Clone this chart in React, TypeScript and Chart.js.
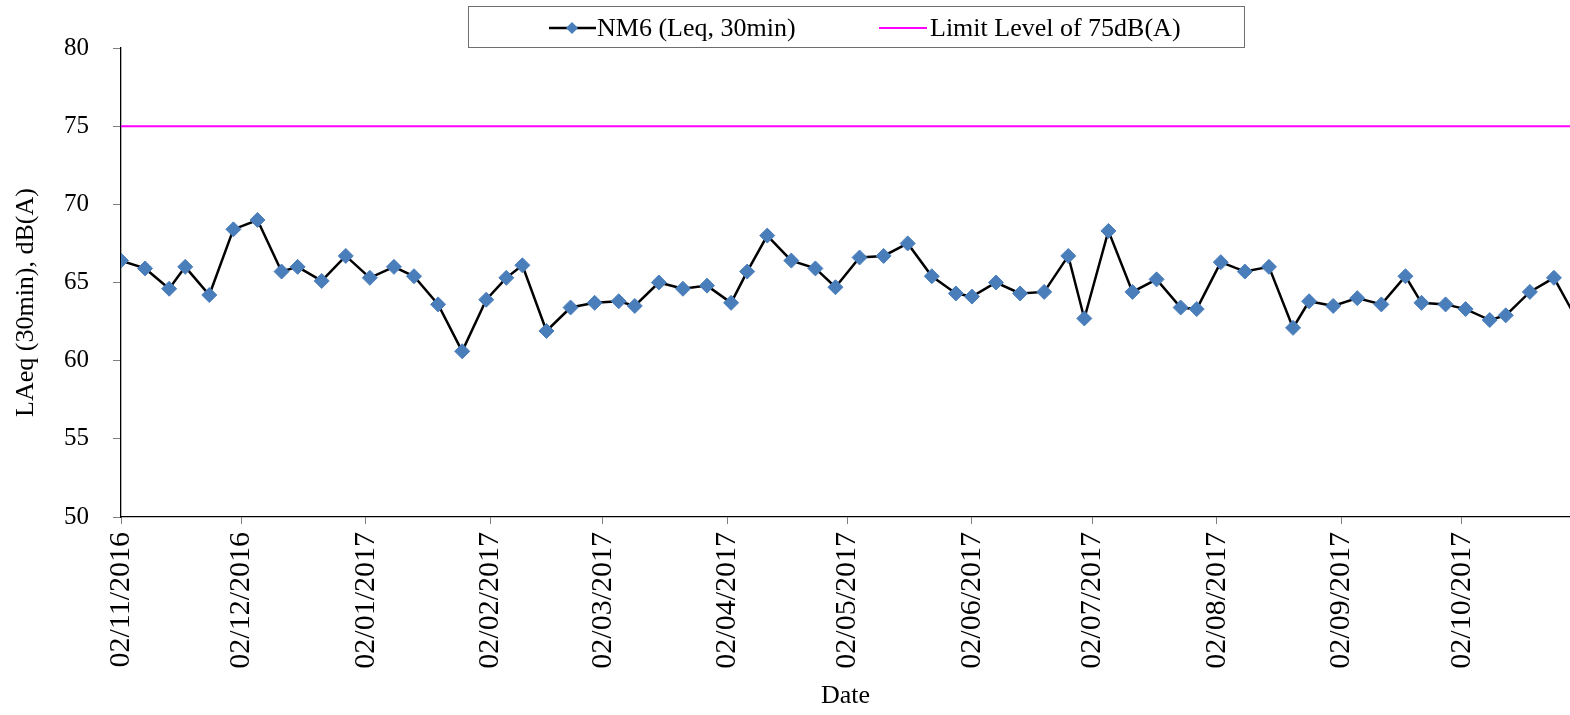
import React, { useEffect, useRef } from "react";
import { Chart, registerables } from "chart.js";

Chart.register(...registerables);

// ---- Data ----
const sampleDates = [
  "02/11/2016", "08/11/2016", "14/11/2016", "18/11/2016", "24/11/2016", "30/11/2016",
  "06/12/2016", "12/12/2016", "16/12/2016", "22/12/2016", "28/12/2016",
  "03/01/2017", "09/01/2017", "14/01/2017", "20/01/2017", "26/01/2017",
  "01/02/2017", "06/02/2017", "10/02/2017", "16/02/2017", "22/02/2017", "28/02/2017",
  "06/03/2017", "10/03/2017", "16/03/2017", "22/03/2017", "28/03/2017",
  "03/04/2017", "07/04/2017", "12/04/2017", "18/04/2017", "24/04/2017", "29/04/2017",
  "05/05/2017", "11/05/2017", "17/05/2017", "23/05/2017", "29/05/2017",
  "02/06/2017", "08/06/2017", "14/06/2017", "20/06/2017", "26/06/2017", "30/06/2017",
  "06/07/2017", "12/07/2017", "18/07/2017", "24/07/2017", "28/07/2017",
  "03/08/2017", "09/08/2017", "15/08/2017", "21/08/2017", "25/08/2017", "31/08/2017",
  "06/09/2017", "12/09/2017", "18/09/2017", "22/09/2017", "28/09/2017",
  "03/10/2017", "09/10/2017", "13/10/2017", "19/10/2017", "25/10/2017", "31/10/2017",
];

const nm6Levels = [
  66.4, 65.9, 64.6, 66.0, 64.2, 68.4, 69.0, 65.7, 66.0, 65.1,
  66.7, 65.3, 66.0, 65.4, 63.6, 60.6, 63.9, 65.3, 66.1, 61.9,
  63.4, 63.7, 63.8, 63.5, 65.0, 64.6, 64.8, 63.7, 65.7, 68.0,
  66.4, 65.9, 64.7, 66.6, 66.7, 67.5, 65.4, 64.3, 64.1, 65.0,
  64.3, 64.4, 66.7, 62.7, 68.3, 64.4, 65.2, 63.4, 63.3, 66.3,
  65.7, 66.0, 62.1, 63.8, 63.5, 64.0, 63.6, 65.4, 63.7, 63.6,
  63.3, 62.6, 62.9, 64.4, 65.3, 62.5,
];

const limitLevel = 75;

const monthTickLabels = [
  "02/11/2016", "02/12/2016", "02/01/2017", "02/02/2017", "02/03/2017", "02/04/2017",
  "02/05/2017", "02/06/2017", "02/07/2017", "02/08/2017", "02/09/2017", "02/10/2017",
];

const axisStartDate = "02/11/2016";
const axisEndDate = "29/10/2017";

const yMin = 50;
const yMax = 80;
const yStep = 5;

const seriesLabel = "NM6 (Leq, 30min)";
const limitLabel = "Limit Level of 75dB(A)";
const xTitle = "Date";
const yTitle = "LAeq (30min), dB(A)";

// ---- Helpers ----
function dayOf(s: string): number {
  const [d, m, y] = s.split("/").map(Number);
  const [d0, m0, y0] = axisStartDate.split("/").map(Number);
  return Math.round((Date.UTC(y, m - 1, d) - Date.UTC(y0, m0 - 1, d0)) / 86400000);
}

const FONT = '"Liberation Serif", "Times New Roman", serif';
const SERIES_COLOR = "#000000";
const MARKER_COLOR = "#4a7ebb";
const LIMIT_COLOR = "#ff00ff";

const zeroPadding = () => ({ left: 0, top: 0, right: 0, bottom: 0 });

const boxLegend = {
  id: "boxLegend",
  afterDraw(chart: any) {
    const ctx = chart.ctx;
    const ds = chart.data.datasets;
    ctx.save();
    ctx.strokeStyle = "#6e6e6e";
    ctx.lineWidth = 1;
    ctx.strokeRect(468.5, 6.5, 776, 41);
    const cy = 28;
    // series 1 sample
    ctx.strokeStyle = SERIES_COLOR;
    ctx.lineWidth = 2.5;
    ctx.beginPath();
    ctx.moveTo(549, cy);
    ctx.lineTo(596, cy);
    ctx.stroke();
    ctx.fillStyle = MARKER_COLOR;
    ctx.beginPath();
    const r = 6;
    ctx.moveTo(572 - r, cy);
    ctx.lineTo(572, cy - r);
    ctx.lineTo(572 + r, cy);
    ctx.lineTo(572, cy + r);
    ctx.closePath();
    ctx.fill();
    ctx.font = `26px ${FONT}`;
    ctx.fillStyle = "#000";
    ctx.textBaseline = "middle";
    ctx.textAlign = "left";
    ctx.fillText(ds[0].label, 597, cy + 1);
    // series 2 sample
    ctx.strokeStyle = LIMIT_COLOR;
    ctx.lineWidth = 2;
    ctx.beginPath();
    ctx.moveTo(879, cy);
    ctx.lineTo(927, cy);
    ctx.stroke();
    ctx.fillText(ds[1].label, 930, cy + 1);

    // y axis title
    const area = chart.chartArea;
    ctx.translate(26, (area.top + area.bottom) / 2 + 20);
    ctx.rotate(-Math.PI / 2);
    ctx.textAlign = "center";
    ctx.textBaseline = "middle";
    ctx.fillText(yTitle, 0, 0);
    ctx.restore();
  },
};

export default function App() {
  const canvasRef = useRef<HTMLCanvasElement | null>(null);

  useEffect(() => {
    document.body.style.margin = "0";
    const canvas = canvasRef.current;
    if (!canvas) return;

    const tickDays = monthTickLabels.map(dayOf);
    const labelByDay = new Map<number, string>();
    monthTickLabels.forEach((l, i) => labelByDay.set(tickDays[i], l));

    const chart = new Chart(canvas, {
      type: "line",
      data: {
        datasets: [
          {
            label: seriesLabel,
            data: sampleDates.map((d, i) => ({ x: dayOf(d), y: nm6Levels[i] })),
            borderColor: SERIES_COLOR,
            borderWidth: 2.5,
            pointStyle: "rectRot",
            pointRadius: 7.5,
            pointBackgroundColor: MARKER_COLOR,
            pointBorderColor: MARKER_COLOR,
            pointBorderWidth: 1,
            tension: 0,
            order: 1,
          },
          {
            label: limitLabel,
            data: [
              { x: dayOf(axisStartDate), y: limitLevel },
              { x: dayOf(axisEndDate), y: limitLevel },
            ],
            borderColor: LIMIT_COLOR,
            borderWidth: 2,
            pointRadius: 0,
            order: 2,
          },
        ],
      },
      options: {
        responsive: false,
        animation: false,
        layout: { autoPadding: false, padding: { top: 48, right: 0, bottom: 0, left: 0 } },
        plugins: {
          legend: { display: false },
          tooltip: { enabled: false },
        },
        scales: {
          x: {
            type: "linear",
            min: dayOf(axisStartDate),
            max: dayOf(axisEndDate),
            afterBuildTicks: (scale: any) => {
              scale.ticks = tickDays.map((v) => ({ value: v }));
            },
            afterFit: (scale: any) => {
              scale.height = 198;
              scale.paddingLeft = 0;
              scale.paddingRight = 0;
              scale.getPadding = zeroPadding;
            },
            ticks: {
              autoSkip: false,
              maxRotation: 90,
              minRotation: 90,
              padding: 8,
              color: "#000",
              font: { family: FONT, size: 30 },
              callback: (value: any) => labelByDay.get(Number(value)) ?? "",
            },
            grid: {
              drawOnChartArea: false,
              drawTicks: true,
              tickLength: 7,
              color: "#808080",
            },
            border: { color: "#000", width: 1.3 },
            title: {
              display: true,
              text: xTitle,
              color: "#000",
              font: { family: FONT, size: 26, lineHeight: 1 },
              padding: { top: 0, bottom: 6 },
            },
          },
          y: {
            type: "linear",
            min: yMin,
            max: yMax,
            afterFit: (scale: any) => {
              scale.width = 121;
            },
            ticks: {
              stepSize: yStep,
              padding: 24,
              color: "#000",
              font: { family: FONT, size: 25 },
            },
            grid: {
              drawOnChartArea: false,
              drawTicks: true,
              tickLength: 8,
              color: "#808080",
            },
            border: { color: "#000", width: 1.3 },
            title: { display: false, text: yTitle },
          },
        },
      } as any,
      plugins: [boxLegend],
    });

    return () => chart.destroy();
  }, []);

  return (
    <canvas
      ref={canvasRef}
      width={1570}
      height={715}
      style={{ display: "block", width: "1570px", height: "715px" }}
    />
  );
}
